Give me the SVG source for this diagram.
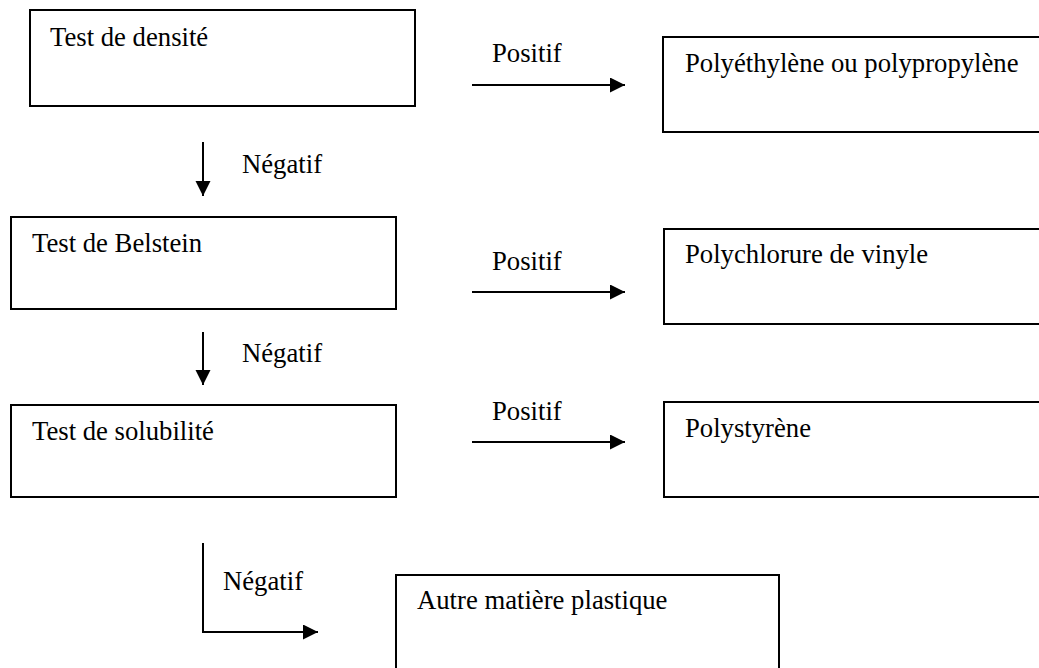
<svg xmlns="http://www.w3.org/2000/svg" width="1039" height="668" viewBox="0 0 1039 668">
<style>
.box{fill:#fff;stroke:#000;stroke-width:2}
.t{font-family:"Liberation Serif","Times New Roman",serif;font-size:26.7px;fill:#000}
.c{fill:none;stroke:#000;stroke-width:2}
</style>
<defs>
<marker id="ah" markerWidth="16" markerHeight="16" refX="15" refY="7.5" orient="auto" markerUnits="userSpaceOnUse">
<path d="M0,0 L15,7.5 L0,15 Z" fill="#000"/>
</marker>
</defs>
<rect width="1039" height="668" fill="#fff"/>
<g id="densite"><rect class="box" x="30" y="10" width="385" height="96"/><text class="t" x="50" y="46">Test de densité</text></g>
<g id="polyethylene"><rect class="box" x="663" y="37" width="390" height="95"/><text class="t" x="685" y="72">Polyéthylène ou polypropylène</text></g>
<g id="belstein"><rect class="box" x="11" y="217" width="385" height="92"/><text class="t" x="32" y="252">Test de Belstein</text></g>
<g id="pvc"><rect class="box" x="664" y="229" width="390" height="95"/><text class="t" x="685" y="263">Polychlorure de vinyle</text></g>
<g id="solubilite"><rect class="box" x="11" y="405" width="385" height="92"/><text class="t" x="32" y="440">Test de solubilité</text></g>
<g id="polystyrene"><rect class="box" x="664" y="402" width="390" height="95"/><text class="t" x="685" y="437">Polystyrène</text></g>
<g id="autre"><rect class="box" x="396" y="575" width="383" height="110"/><text class="t" x="417" y="609">Autre matière plastique</text></g>
<g id="connectors">
<line class="c" x1="472" y1="85" x2="625" y2="85" marker-end="url(#ah)"/>
<text class="t" x="492" y="62">Positif</text>
<line class="c" x1="203" y1="142" x2="203" y2="196" marker-end="url(#ah)"/>
<text class="t" x="242" y="173">Négatif</text>
<line class="c" x1="472" y1="292" x2="625" y2="292" marker-end="url(#ah)"/>
<text class="t" x="492" y="270">Positif</text>
<line class="c" x1="203" y1="332" x2="203" y2="385" marker-end="url(#ah)"/>
<text class="t" x="242" y="362">Négatif</text>
<line class="c" x1="472" y1="442" x2="625" y2="442" marker-end="url(#ah)"/>
<text class="t" x="492" y="420">Positif</text>
<polyline class="c" points="203,543 203,632 318,632" marker-end="url(#ah)"/>
<text class="t" x="223" y="590">Négatif</text>
</g>
</svg>
